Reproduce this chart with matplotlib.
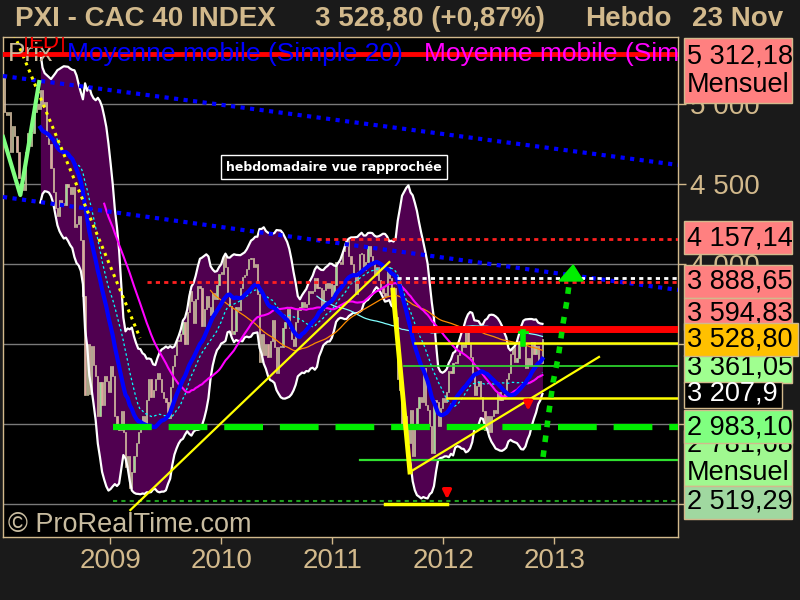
import matplotlib
matplotlib.use('Agg')
import matplotlib.pyplot as plt
import matplotlib.dates as mdates
from matplotlib.patches import Rectangle
import numpy as np
import pandas as pd

# weekly closes of the CAC 40 (one value per Friday)
close_2008 = [5400, 5180, 4950, 4930,
              4950, 4700, 4860, 4800, 4700,
              4540, 4500, 4460, 4700,
              4820, 4740, 4820, 4950,
              5000, 4970, 5090, 4990, 5010,
              4800, 4750, 4600, 4450,
              4350, 4300, 4400, 4380,
              4370, 4500, 4480, 4440, 4480,
              4230, 4250, 4300, 4150,
              3800, 3180, 3500, 3190, 3490,
              3370, 3300, 3050, 3260,
              3120, 3300, 3270, 3200]
close_2009 = [3360, 3300, 3050, 2980, 2960,
              3080, 2950, 2730, 2800,
              2600, 2700, 2800, 2880,
              2950, 3000, 3050, 3000,
              3150, 3280, 3170, 3210, 3280,
              3320, 3280, 3200, 3160,
              3140, 3040, 3230, 3360, 3430,
              3520, 3520, 3560, 3640,
              3500, 3700, 3830, 3770,
              3630, 3780, 3860, 3850, 3610,
              3720, 3800, 3730, 3680,
              3820, 3780, 3870, 3940]
close_2010 = [3940, 4050, 3980, 3800, 3740,
              3560, 3580, 3730, 3710,
              3850, 3920, 3930, 3970,
              4030, 4040, 3980, 4000, 3810,
              3390, 3560, 3430, 3500,
              3420, 3520, 3650, 3480,
              3320, 3480, 3480, 3600, 3640,
              3720, 3600, 3530, 3490,
              3640, 3710, 3730, 3760,
              3730, 3750, 3830, 3820, 3830,
              3910, 3850, 3850, 3710,
              3840, 3880, 3850, 3880, 3800]
close_2011 = [3870, 4010, 4010, 4000,
              4080, 4110, 4150, 4050,
              4000, 3930, 3810, 3950,
              4060, 4060, 3960, 4010, 4110,
              4050, 4000, 3930, 3980,
              3900, 3850, 3820, 3800,
              3980, 3910, 3740, 3850, 3670,
              3280, 3210, 2980, 3050,
              3000, 2880, 3090, 2800, 2980,
              3100, 3170, 3140, 3350,
              3120, 3090, 2990, 2820,
              3150, 3140, 2990, 3100, 3160]
close_2012 = [3140, 3200, 3330, 3320,
              3380, 3380, 3430, 3450,
              3500, 3480, 3600, 3500, 3420,
              3320, 3180, 3240, 3270,
              3170, 3080, 2960, 3050,
              2950, 3050, 3090, 3070, 3200,
              3150, 3170, 3190, 3280,
              3320, 3440, 3480, 3390, 3410,
              3520, 3560, 3500, 3350,
              3410, 3370, 3510, 3440,
              3490, 3400, 3380, 3528.80]

# levels shown in the right-hand boxes
box_labels = ['5 312,18\nMensuel', '4 157,14', '3 888,65', '3 594,83', '3 361,05',
              '3 207,9', '2 781,68\nMensuel', '2 983,10', '2 519,29', '3 528,80']
box_colors = ['#ff8080', '#ff8080', '#ff8080', '#ff8080', '#a0ff90',
              '#000000', '#a0f890', '#80ff80', '#a0d8a0', '#ffc000']

year_ticks = ['2009', '2010', '2011', '2012', '2013']
price_ticks = [2500, 3000, 3500, 4000, 4500, 5000]

TAN = '#d2b98c'
plt.rcParams['font.family'] = ['Liberation Sans', 'DejaVu Sans']

closes = np.array(close_2008 + close_2009 + close_2010 + close_2011 + close_2012)
dates = pd.date_range('2008-01-04', '2012-11-23', freq='W-FRI')
xd = mdates.date2num(dates.to_pydatetime())
s = pd.Series(closes, index=dates)


def d(day):
    return mdates.date2num(pd.Timestamp(day).to_pydatetime())


sma20 = s.rolling(20).mean()
std20 = s.rolling(20).std(ddof=0)
upper = (sma20 + 2.1 * std20).values
lower = (sma20 - 2.1 * std20).values
sma27 = s.rolling(27).mean().values
sma50 = s.rolling(50).mean().values
sma100 = s.rolling(100).mean().values
sma150 = s.rolling(150).mean().values

fig = plt.figure(figsize=(8, 6), dpi=100, facecolor='#1a1a1a')
ax = fig.add_axes([3 / 800, 63 / 600, 675 / 800, 500 / 600])
ax.set_facecolor('black')
for sp in ax.spines.values():
    sp.set_color(TAN)
    sp.set_linewidth(1)

ax.set_xlim(d('2008-01-14'), d('2014-02-12'))
ax.set_ylim(2293.75, 5418.75)

# grid
for p in price_ticks:
    ax.axhline(p, color='#7a7a7a', lw=1, zorder=0.5)

# bollinger band
ok = ~np.isnan(upper)
ax.fill_between(xd[ok], lower[ok], upper[ok], color='#500050', lw=0, zorder=1)

# candles (open = previous close)
opens = np.concatenate([[closes[0]], closes[:-1]])
up = closes >= opens
bottoms = np.minimum(opens, closes)
heights = np.maximum(np.abs(closes - opens), 8)
ax.bar(xd[up], heights[up], bottom=bottoms[up], width=4, color='#98d898',
       edgecolor='#d0c0a0', lw=0.5, zorder=2)
ax.bar(xd[~up], heights[~up], bottom=bottoms[~up], width=4, color='#e0a4a0',
       edgecolor='#d0c0a0', lw=0.5, zorder=2)

ax.plot(xd, upper, color='white', lw=1.6, zorder=2.5)
ax.plot(xd, lower, color='white', lw=1.6, zorder=2.5)

# moving averages
ax.plot(xd, sma150, color='#80ffff', lw=0.9, zorder=3)
ax.plot(xd, sma100, color='#ff8c00', lw=0.9, zorder=3)
ax.plot(xd, sma27, color='#00ffff', lw=0.9, ls=(0, (2, 2)), zorder=3)
ax.plot(xd, sma50, color='#ff00ff', lw=1.5, zorder=3)
ax.plot(xd, sma20.values, color='#0000ff', lw=3, zorder=3.2)

# drawn objects
z = 4
ax.plot([d('2008-01-14'), d('2014-02-12')], [5175, 4619], color='#0000ff', lw=3,
        ls=(0, (1, 1.3)), zorder=z)
ax.plot([d('2008-01-14'), d('2014-02-12')], [4419, 3838], color='#0000ff', lw=3,
        ls=(0, (1, 1.3)), zorder=z)
ax.plot([d('2008-02-10'), d('2009-04-09')], [5480, 3537], color='yellow', lw=2.2,
        ls=(0, (1, 1.5)), zorder=z)
ax.plot([d('2008-01-14'), d('2008-03-11'), d('2008-05-12')], [4794, 4431, 5137],
        color='#80ff80', lw=3, zorder=z)

ax.axhline(5312.18, color='#ff0000', lw=3.5, zorder=z)
ax.plot([d('2010-11-12'), d('2014-02-12')], [4157.14, 4157.14], color='#ff2020', lw=2,
        ls=(0, (1.5, 1.5)), zorder=z)
ax.plot([d('2011-08-02'), d('2014-02-12')], [3912, 3912], color='white', lw=2,
        ls=(0, (1.5, 1.5)), zorder=z)
ax.plot([d('2009-05-01'), d('2014-02-12')], [3888.65, 3888.65], color='#ff2020', lw=2,
        ls=(0, (1.5, 1.5)), zorder=z)
ax.plot([d('2011-10-01'), d('2014-02-12')], [3594.83, 3594.83], color='#ff0000', lw=5,
        zorder=z)
ax.plot([d('2011-10-01'), d('2014-02-12')], [3505, 3505], color='yellow', lw=1.8, zorder=z)
ax.plot([d('2011-08-25'), d('2014-02-12')], [3361.05, 3361.05], color='#30e030', lw=1.2,
        zorder=z)
ax.plot([d('2012-01-14'), d('2014-02-12')], [3165, 3165], color='yellow', lw=1.8, zorder=z)
ax.plot([d('2009-01-10'), d('2014-02-12')], [2983.10, 2983.10], color='#00ee00', lw=4.5,
        ls=(0, (6.2, 2.7)), zorder=z)
ax.plot([d('2011-04-03'), d('2014-02-12')], [2776, 2776], color='#30e030', lw=1.6, zorder=z)
ax.plot([d('2009-01-10'), d('2014-02-12')], [2519.29, 2519.29], color='#20a020', lw=1.5,
        ls=(0, (2, 2)), zorder=z)
ax.plot([d('2011-06-23'), d('2012-01-14')], [2502, 2502], color='yellow', lw=2.5, zorder=z)

# trend lines
ax.plot([d('2009-03-08'), d('2011-07-08')], [2462, 4012], color='yellow', lw=1.6, zorder=z)
ax.plot([d('2011-07-20'), d('2011-09-14')], [3837, 2700], color='yellow', lw=3.5, zorder=z)
ax.plot([d('2011-09-14'), d('2013-05-28')], [2700, 3419], color='yellow', lw=1.6, zorder=z)

# arrows and markers
ax.annotate('', xy=(d('2012-01-14'), 2512), xytext=(d('2012-01-14'), 2612),
            arrowprops=dict(arrowstyle='-|>', color='red', lw=2.5, mutation_scale=12),
            zorder=z + 1)
ax.annotate('', xy=(d('2012-10-07'), 3065), xytext=(d('2012-10-07'), 3165),
            arrowprops=dict(arrowstyle='-|>', color='red', lw=2.5, mutation_scale=12),
            zorder=z + 1)
ax.plot([d('2012-09-20'), d('2012-09-20')], [3500, 3575], color='#00ee00', lw=4, zorder=z)
ax.plot([d('2012-09-08'), d('2012-10-04')], [3575, 3575], color='#00ee00', lw=2, zorder=z)
arrow_x = [d('2012-11-25'), d('2012-12-12'), d('2012-12-28'), d('2013-01-14'),
           d('2013-01-30'), d('2013-02-12'), d('2013-02-19')]
arrow_y = [2794, 3044, 3262, 3419, 3631, 3775, 3881]
ax.plot(arrow_x, arrow_y, color='#00dd00', lw=4, ls=(0, (1.2, 1.5)), zorder=z)
ax.fill([d('2013-01-17'), d('2013-03-04'), d('2013-04-06')], [3894, 3994, 3894],
        color='#00ee00', zorder=z + 1)

# legend texts
leg_y = (537 - 54) / 500
ax.text(0.0074, leg_y, 'Prix', transform=ax.transAxes, color='#c8b89a', fontsize=19,
        va='center', zorder=6, clip_on=True)
ax.text(0.0948, leg_y, 'Moyenne mobile (Simple 20)', transform=ax.transAxes,
        color='#0000ff', fontsize=19, va='center', zorder=6, clip_on=True)
ax.text(0.6237, leg_y, 'Moyenne mobile (Simple 50)', transform=ax.transAxes,
        color='#ff00ff', fontsize=19, va='center', zorder=6, clip_on=True)

# red "ED" tag, cut by the top of the frame
ax.add_patch(Rectangle(((26 - 3) / 675, (537 - 55) / 500), 37 / 675, 30 / 500,
                       transform=ax.transAxes, facecolor='none', edgecolor='red',
                       lw=1.2, zorder=6, clip_on=True))
ax.text((44 - 3) / 675, (537 - 43) / 500, 'ED', transform=ax.transAxes, color='red',
        fontsize=16, ha='center', va='center', zorder=6, clip_on=True)

ax.text(0.0074, 0.024, '\u00a9 ProRealTime.com', transform=ax.transAxes, color='#c8bca0',
        fontsize=19.5, va='center', zorder=6)

fig.text(334 / 800, 1 - 167 / 600, 'hebdomadaire vue rapproch\u00e9e', color='white',
         fontsize=9, fontweight='bold', family='DejaVu Sans', ha='center', va='center',
         zorder=20, bbox=dict(facecolor='black', edgecolor='white', lw=1, pad=4))

# axes ticks
ax.yaxis.tick_right()
ax.set_yticks(price_ticks)
ax.set_yticklabels([f'{p:,}'.replace(',', ' ') for p in price_ticks])
ax.tick_params(axis='y', colors=TAN, labelsize=20, length=6, pad=3, width=1)
ax.set_xticks([d(f'{y}-01-01') for y in year_ticks])
ax.set_xticklabels(year_ticks)
ax.tick_params(axis='x', colors=TAN, labelsize=20, length=5, pad=3, width=1)

# title line
for txt, xp in [('PXI - CAC 40 INDEX', 15), ('3 528,80 (+0,87%)', 315),
                ('Hebdo', 585), ('23 Nov', 692)]:
    fig.text(xp / 800, 1 - 19 / 600, txt, color=TAN, fontsize=20, fontweight='bold',
             va='center')

# right-hand value boxes: top, bottom, right edge, text centre (pixels)
box_layout = [(38, 103, 792, 71), (221, 254, 792, 238), (265, 298, 792, 282),
              (298, 330, 792, 314), (355, 383, 792, 368), (382, 408, 782, 394),
              (430, 486, 792, 459), (410, 443, 792, 427), (486, 519, 792, 502),
              (323, 356, 798, 340)]
for i, (lab, col, (top, bot, right, cy)) in enumerate(zip(box_labels, box_colors, box_layout)):
    left = 684
    fig.add_artist(Rectangle((left / 800, 1 - bot / 600), (right - left) / 800,
                             (bot - top) / 600, transform=fig.transFigure,
                             facecolor=col, edgecolor=TAN, lw=1, zorder=10 + 2 * i))
    tc = 'white' if col == '#000000' else 'black'
    t = fig.text((left + 3) / 800, 1 - cy / 600, lab, color=tc, fontsize=19.5,
                 va='center', ha='left', zorder=11 + 2 * i, linespacing=1.15)
    t.set_clip_path(Rectangle((left / 800, 1 - bot / 600), (right - left) / 800,
                              (bot - top) / 600, transform=fig.transFigure))

fig.savefig('out.png', dpi=100, facecolor=fig.get_facecolor())
